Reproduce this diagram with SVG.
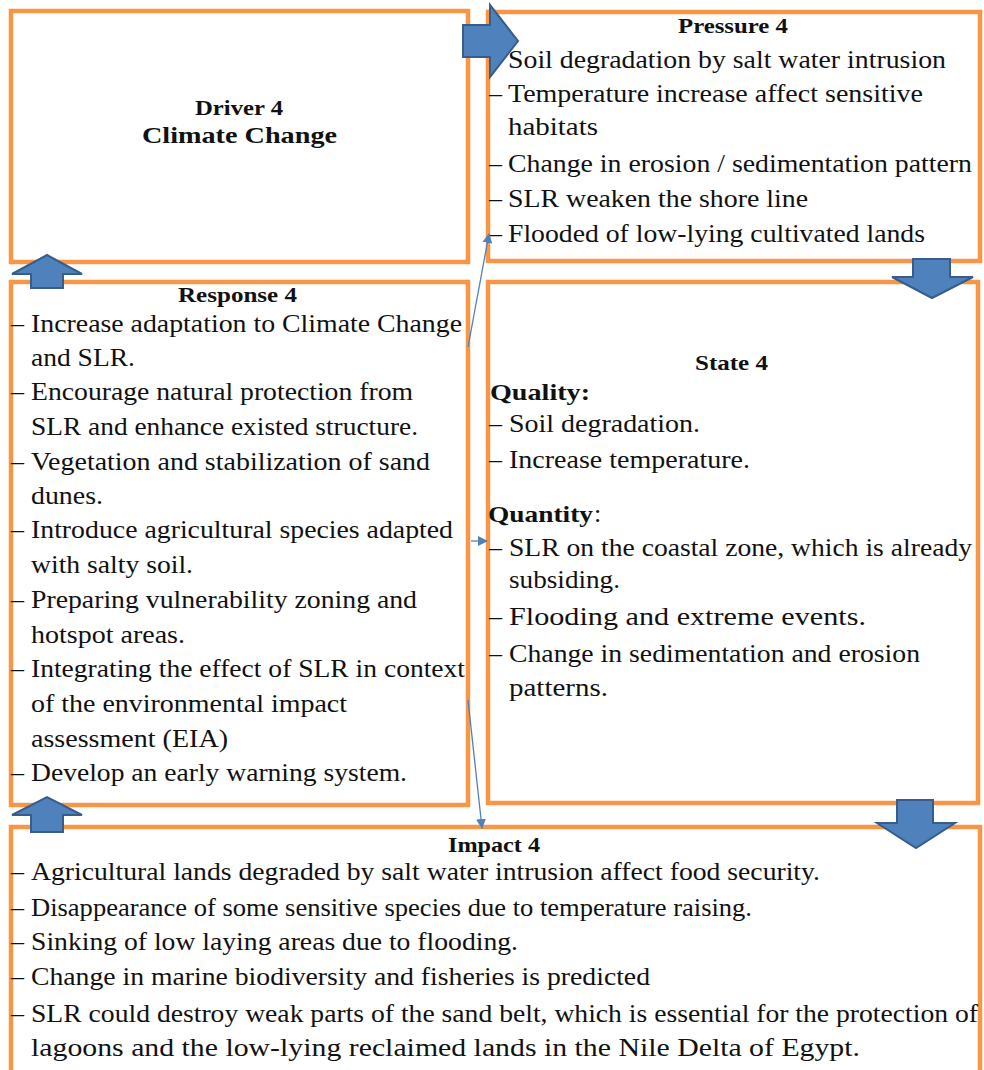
<svg xmlns="http://www.w3.org/2000/svg" width="984" height="1070" viewBox="0 0 984 1070">
  <style>
    .box { fill: #ffffff; stroke: #F79646; stroke-width: 4.5; }
    .t { font-family: "Liberation Serif", "Times New Roman", serif; font-size: 26px; fill: #111111; }
    .h { font-family: "Liberation Serif", "Times New Roman", serif; font-size: 21px; font-weight: bold; fill: #111111; }
    .hb { font-family: "Liberation Serif", "Times New Roman", serif; font-size: 24px; font-weight: bold; fill: #111111; }
    .blk { fill: #4F81BD; stroke: #385D8A; stroke-width: 2; stroke-linejoin: miter; }
    .link { fill: none; stroke: #4F81BD; stroke-width: 1.3; marker-end: url(#tip); }
  </style>
  <defs>
    <marker id="tip" viewBox="0 0 10 10" refX="9" refY="5" markerWidth="10" markerHeight="10" markerUnits="userSpaceOnUse" orient="auto">
      <path d="M0,0 L10,5 L0,10 z" fill="#4F81BD"/>
    </marker>
  </defs>
  <rect width="984" height="1070" fill="#ffffff"/>

  <g id="driver">
    <rect class="box" x="11" y="11" width="457" height="251"/>
    <text class="h" x="195" y="115" textLength="88" lengthAdjust="spacingAndGlyphs">Driver 4</text>
    <text class="hb" x="142" y="143" textLength="195" lengthAdjust="spacingAndGlyphs">Climate Change</text>
  </g>

  <g id="pressure">
    <rect class="box" x="488" y="12" width="492" height="249"/>
    <text class="h" x="678" y="33" textLength="110" lengthAdjust="spacingAndGlyphs">Pressure 4</text>
    <g class="t">
      <text x="489" y="68">–</text>
      <text x="508" y="68" textLength="438" lengthAdjust="spacingAndGlyphs">Soil degradation by salt water intrusion</text>
      <text x="489" y="102">–</text>
      <text x="508" y="102" textLength="415" lengthAdjust="spacingAndGlyphs">Temperature increase affect sensitive</text>
      <text x="508" y="135" textLength="90" lengthAdjust="spacingAndGlyphs">habitats</text>
      <text x="489" y="172">–</text>
      <text x="508" y="172" textLength="464" lengthAdjust="spacingAndGlyphs">Change in erosion / sedimentation pattern</text>
      <text x="489" y="207">–</text>
      <text x="508" y="207" textLength="300" lengthAdjust="spacingAndGlyphs">SLR weaken the shore line</text>
      <text x="489" y="242">–</text>
      <text x="508" y="242" textLength="417" lengthAdjust="spacingAndGlyphs">Flooded of low-lying cultivated lands</text>
    </g>
  </g>

  <g id="response">
    <rect class="box" x="11" y="282" width="457" height="523"/>
    <text class="h" x="178" y="302" textLength="119" lengthAdjust="spacingAndGlyphs">Response 4</text>
    <g class="t">
      <text x="11" y="332">–</text>
      <text x="31" y="332" textLength="431" lengthAdjust="spacingAndGlyphs">Increase adaptation to Climate Change</text>
      <text x="31" y="366" textLength="104" lengthAdjust="spacingAndGlyphs">and SLR.</text>
      <text x="11" y="400">–</text>
      <text x="31" y="400" textLength="382" lengthAdjust="spacingAndGlyphs">Encourage natural protection from</text>
      <text x="31" y="435" textLength="387" lengthAdjust="spacingAndGlyphs">SLR and enhance existed structure.</text>
      <text x="11" y="470">–</text>
      <text x="31" y="470" textLength="399" lengthAdjust="spacingAndGlyphs">Vegetation and stabilization of sand</text>
      <text x="31" y="504" textLength="72" lengthAdjust="spacingAndGlyphs">dunes.</text>
      <text x="11" y="538">–</text>
      <text x="31" y="538" textLength="422" lengthAdjust="spacingAndGlyphs">Introduce agricultural species adapted</text>
      <text x="31" y="573" textLength="162" lengthAdjust="spacingAndGlyphs">with salty soil.</text>
      <text x="11" y="608">–</text>
      <text x="31" y="608" textLength="386" lengthAdjust="spacingAndGlyphs">Preparing vulnerability zoning and</text>
      <text x="31" y="643" textLength="154" lengthAdjust="spacingAndGlyphs">hotspot areas.</text>
      <text x="11" y="677">–</text>
      <text x="31" y="677" textLength="434" lengthAdjust="spacingAndGlyphs">Integrating the effect of SLR in context</text>
      <text x="31" y="712" textLength="316" lengthAdjust="spacingAndGlyphs">of the environmental impact</text>
      <text x="31" y="747" textLength="197" lengthAdjust="spacingAndGlyphs">assessment (EIA)</text>
      <text x="11" y="781">–</text>
      <text x="31" y="781" textLength="376" lengthAdjust="spacingAndGlyphs">Develop an early warning system.</text>
    </g>
  </g>

  <g id="state">
    <rect class="box" x="488" y="282" width="490" height="521"/>
    <text class="h" x="695" y="370" textLength="73" lengthAdjust="spacingAndGlyphs">State 4</text>
    <text class="hb" x="490" y="400" textLength="100" lengthAdjust="spacingAndGlyphs">Quality:</text>
    <g class="t">
      <text x="489" y="432">–</text>
      <text x="509" y="432" textLength="191" lengthAdjust="spacingAndGlyphs">Soil degradation.</text>
      <text x="489" y="468">–</text>
      <text x="509" y="468" textLength="241" lengthAdjust="spacingAndGlyphs">Increase temperature.</text>
    </g>
    <text class="hb" x="488" y="522" textLength="105" lengthAdjust="spacingAndGlyphs">Quantity</text>
    <text class="t" x="594" y="522">:</text>
    <g class="t">
      <text x="489" y="556">–</text>
      <text x="509" y="556" textLength="463" lengthAdjust="spacingAndGlyphs">SLR on the coastal zone, which is already</text>
      <text x="509" y="588" textLength="111" lengthAdjust="spacingAndGlyphs">subsiding.</text>
      <text x="489" y="625">–</text>
      <text x="509" y="625" textLength="357" lengthAdjust="spacingAndGlyphs">Flooding and extreme events.</text>
      <text x="489" y="662">–</text>
      <text x="509" y="662" textLength="411" lengthAdjust="spacingAndGlyphs">Change in sedimentation and erosion</text>
      <text x="509" y="696" textLength="99" lengthAdjust="spacingAndGlyphs">patterns.</text>
    </g>
  </g>

  <g id="impact">
    <rect class="box" x="11" y="827" width="969" height="260"/>
    <text class="h" x="448" y="852" textLength="92" lengthAdjust="spacingAndGlyphs">Impact 4</text>
    <g class="t">
      <text x="11" y="880">–</text>
      <text x="31" y="880" textLength="789" lengthAdjust="spacingAndGlyphs">Agricultural lands degraded by salt water intrusion affect food security.</text>
      <text x="11" y="916">–</text>
      <text x="31" y="916" textLength="721" lengthAdjust="spacingAndGlyphs">Disappearance of some sensitive species due to temperature raising.</text>
      <text x="11" y="950">–</text>
      <text x="31" y="950" textLength="487" lengthAdjust="spacingAndGlyphs">Sinking of low laying areas due to flooding.</text>
      <text x="11" y="985">–</text>
      <text x="31" y="985" textLength="619" lengthAdjust="spacingAndGlyphs">Change in marine biodiversity and fisheries is predicted</text>
      <text x="11" y="1022">–</text>
      <text x="31" y="1022" textLength="947" lengthAdjust="spacingAndGlyphs">SLR could destroy weak parts of the sand belt, which is essential for the protection of</text>
      <text x="31" y="1056" textLength="829" lengthAdjust="spacingAndGlyphs">lagoons and the low-lying reclaimed lands in the Nile Delta of Egypt.</text>
    </g>
  </g>

  <g id="connectors">
    <!-- block arrows of the cycle -->
    <polygon class="blk" points="463,25 490,25 490,5 518,41 490,77 490,57 463,57"/>
    <polygon class="blk" points="913,259 950,259 950,277 973,277 932,298 892,277 913,277"/>
    <polygon class="blk" points="897,800 933,800 933,823 955,823 916,848 877,823 897,823"/>
    <polygon class="blk" points="31,832 31,815 12,815 47,797 82,815 63,815 63,832"/>
    <polygon class="blk" points="31,288 31,274 12,274 47,255 82,274 63,274 63,288"/>
    <!-- thin links from Response -->
    <line class="link" x1="468" y1="347" x2="489" y2="234"/>
    <line class="link" x1="471" y1="541" x2="487" y2="541"/>
    <line class="link" x1="468" y1="700" x2="482" y2="828"/>
  </g>
</svg>
